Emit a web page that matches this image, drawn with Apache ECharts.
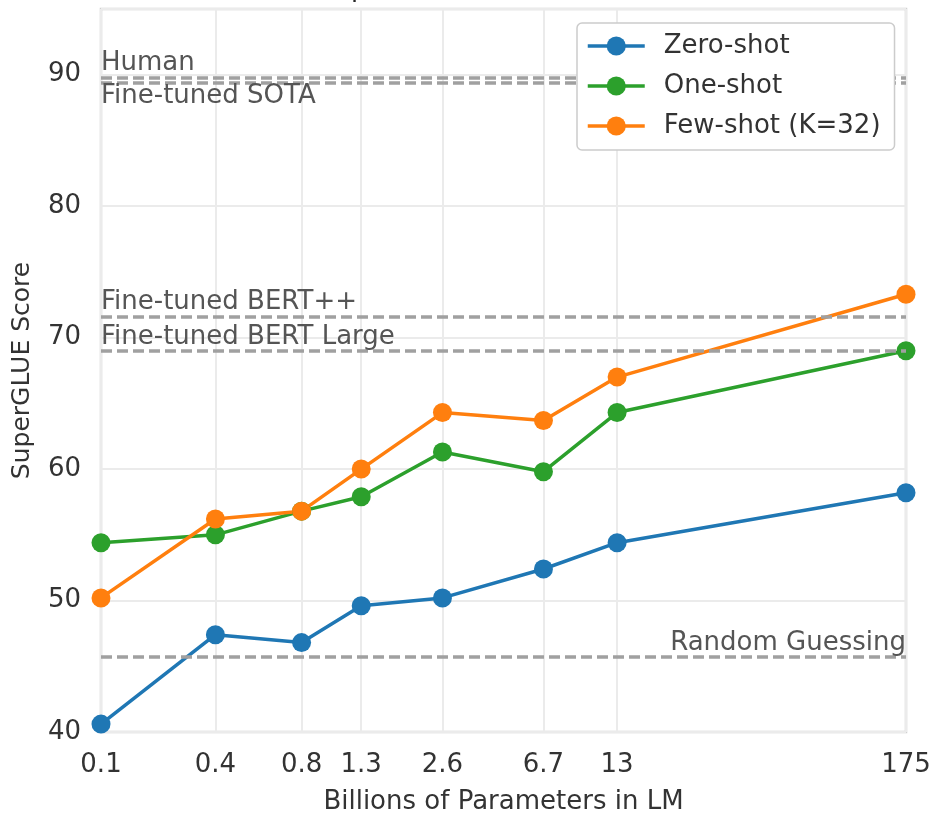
<!DOCTYPE html>
<html>
<head>
<meta charset="utf-8">
<script src="https://cdn.jsdelivr.net/npm/echarts@6/dist/echarts.min.js"></script>
<style>
html,body{margin:0;padding:0;background:#fff;}
#chart{width:937px;height:813px;}
</style>
</head>
<body>
<div id="chart"></div>
<script>
// Model sizes (billions of parameters) and their tick labels
const params = [0.125, 0.35, 0.76, 1.3, 2.7, 6.7, 13, 175];
const tickLabels = ['0.1', '0.4', '0.8', '1.3', '2.6', '6.7', '13', '175'];

// SuperGLUE scores
const zeroShot = [40.6, 47.4, 46.8, 49.6, 50.2, 52.4, 54.4, 58.2];
const oneShot  = [54.4, 55.0, 56.8, 57.9, 61.3, 59.8, 64.3, 69.0];
const fewShot  = [50.2, 56.2, 56.8, 60.0, 64.3, 63.7, 67.0, 73.3];

// Reference levels
const refNames  = ['Human', 'Fine-tuned SOTA', 'Fine-tuned BERT++', 'Fine-tuned BERT Large', 'Random Guessing'];
const refValues = [89.8, 89.4, 71.6, 69.0, 45.7];
const refPos    = ['insideStartTop', 'insideStartBottom', 'insideStartTop', 'insideStartTop', 'insideEndTop'];

const FONT = 'DejaVu Sans';
const pairs = arr => params.map((p, i) => [p, arr[i]]);
const labelMap = {};
params.forEach((p, i) => { labelMap[p] = tickLabels[i]; });

function lineSeries(name, data, color) {
  return {
    name: name,
    type: 'line',
    data: pairs(data),
    symbol: 'circle',
    symbolSize: 19,
    lineStyle: { width: 3.5, color: color },
    itemStyle: { color: color },
    emphasis: { disabled: true },
    z: 3
  };
}

const chart = echarts.init(document.getElementById('chart'), null, { renderer: 'canvas' });
chart.setOption({
  animation: false,
  backgroundColor: '#ffffff',
  textStyle: { fontFamily: FONT },
  graphic: [{
    type: 'text',
    left: 318,
    top: -24,
    style: { text: 'SuperGLUE Performance', font: '26px "DejaVu Sans"', fill: '#262626' }
  }],
  grid: {
    left: 101, right: 31, top: 9, bottom: 81,
    show: true, borderColor: '#d0d0d0', borderWidth: 2.5,
    outerBoundsMode: 'none'
  },
  legend: {
    orient: 'vertical',
    left: 577, top: 23,
    z: 10,
    padding: [10, 14, 11, 9],
    itemWidth: 57, itemHeight: 24, itemGap: 14,
    backgroundColor: '#ffffff',
    borderColor: '#cccccc', borderWidth: 1.5, borderRadius: 5,
    lineStyle: { width: 3.5 },
    textStyle: { fontFamily: FONT, fontSize: 26, color: '#333333', padding: [0, 0, 0, 14] },
    data: ['Zero-shot', 'One-shot', 'Few-shot (K=32)']
  },
  xAxis: {
    type: 'log', logBase: 10, min: 0.125, max: 175,
    name: 'Billions of Parameters in LM', nameLocation: 'middle', nameGap: 57,
    nameTextStyle: { fontFamily: FONT, fontSize: 26, color: '#333333' },
    axisLine: { show: false },
    axisTick: { show: false, customValues: params },
    axisLabel: {
      customValues: params, margin: 20,
      fontFamily: FONT, fontSize: 26, color: '#333333',
      formatter: v => {
        let best = params[0];
        params.forEach(p => { if (Math.abs(Math.log(p) - Math.log(v)) < Math.abs(Math.log(best) - Math.log(v))) best = p; });
        return labelMap[best];
      }
    },
    splitLine: { show: true, lineStyle: { color: '#ebebeb', width: 2 } }
  },
  yAxis: {
    type: 'value', min: 40, max: 95, interval: 10,
    name: 'SuperGLUE Score', nameLocation: 'middle', nameGap: 66,
    nameTextStyle: { fontFamily: FONT, fontSize: 25, color: '#333333' },
    axisLine: { show: false },
    axisTick: { show: false },
    axisLabel: { margin: 20, fontFamily: FONT, fontSize: 26, color: '#333333', showMaxLabel: false,
      formatter: v => (v % 10 === 0 ? String(v) : '') },
    splitLine: { show: true, lineStyle: { color: '#ebebeb', width: 2 } }
  },
  series: [
    lineSeries('Zero-shot', zeroShot, '#1f77b4'),
    lineSeries('One-shot', oneShot, '#2ca02c'),
    lineSeries('Few-shot (K=32)', fewShot, '#ff7f0e'),
    {
      name: 'refs', type: 'line', data: [], z: 2, silent: true,
      markLine: {
        silent: true, symbol: ['none', 'none'], animation: false,
        lineStyle: { type: [11, 5], color: '#a0a0a0', width: 3.5 },
        data: refValues.map((v, i) => ({
          yAxis: v,
          label: {
            show: true, formatter: refNames[i], position: refPos[i],
            distance: [0, 1],
            fontFamily: FONT, fontSize: 26, color: '#555555'
          }
        }))
      }
    }
  ]
});
</script>
</body>
</html>
